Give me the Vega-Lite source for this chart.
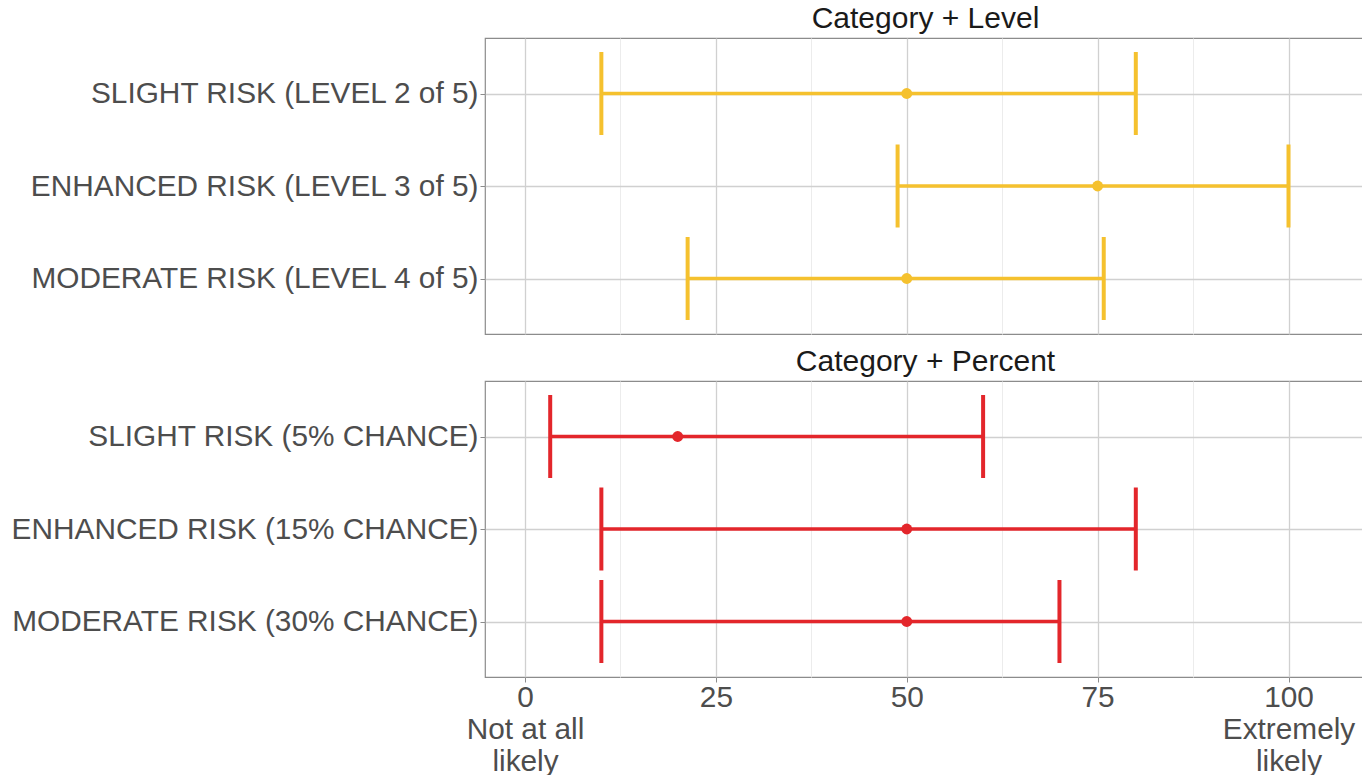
{
  "$schema": "https://vega.github.io/schema/vega-lite/v6.json",
  "padding": {"left": 10, "top": 3, "right": 0, "bottom": 0},
  "background": "white",
  "config": {
    "font": "Liberation Sans",
    "view": {"stroke": "#8c8c8c", "strokeWidth": 1.2},
    "title": {"font": "Liberation Sans", "fontSize": 30, "fontWeight": "normal", "color": "#1a1a1a", "frame": "group", "anchor": "middle", "offset": 4},
    "axis": {"labelFont": "Liberation Sans", "labelFontSize": 29.8, "labelColor": "#4d4d4d", "labelLimit": 800, "tickColor": "#8c8c8c", "tickSize": 5, "labelPadding": 2, "domain": false, "title": null}
  },
  "datasets": {
    "risk": [
      {"panel": "Level", "category": "SLIGHT RISK (LEVEL 2 of 5)", "low": 10, "mid": 50, "high": 80},
      {"panel": "Level", "category": "ENHANCED RISK (LEVEL 3 of 5)", "low": 48.8, "mid": 75, "high": 100},
      {"panel": "Level", "category": "MODERATE RISK (LEVEL 4 of 5)", "low": 21.3, "mid": 50, "high": 75.8},
      {"panel": "Percent", "category": "SLIGHT RISK (5% CHANCE)", "low": 3.3, "mid": 20, "high": 60},
      {"panel": "Percent", "category": "ENHANCED RISK (15% CHANCE)", "low": 10, "mid": 50, "high": 80},
      {"panel": "Percent", "category": "MODERATE RISK (30% CHANCE)", "low": 10, "mid": 50, "high": 70}
    ]
  },
  "spacing": 11,
  "vconcat": [
    {
      "title": "Category + Level",
      "width": 881,
      "height": 296,
      "data": {"name": "risk"},
      "transform": [{"filter": "datum.panel === 'Level'"}],
      "encoding": {
        "y": {"field": "category", "type": "nominal", "sort": null, "scale": {"type": "point", "padding": 0.6},
              "axis": {"gridColor": "#d0d0d0", "gridWidth": 1.3, "grid": true}}
      },
      "layer": [
        {
          "mark": {"type": "rule", "color": "#F5C12E", "strokeWidth": 3.5},
          "encoding": {
            "x": {"field": "low", "type": "quantitative", "scale": {"domain": [-5.24, 110.15], "nice": false, "zero": false},
                  "axis": {"values": [0, 12.5, 25, 37.5, 50, 62.5, 75, 87.5, 100], "labels": false, "ticks": false, "grid": true,
                           "gridColor": {"condition": {"test": "datum.value % 25 !== 0", "value": "#ececec"}, "value": "#d0d0d0"},
                           "gridWidth": {"condition": {"test": "datum.value % 25 !== 0", "value": 1}, "value": 1.3}}},
            "x2": {"field": "high"}
          }
        },
        {
          "mark": {"type": "tick", "color": "#F5C12E", "thickness": 4, "size": 83, "opacity": 1},
          "encoding": {"x": {"field": "low", "type": "quantitative"}}
        },
        {
          "mark": {"type": "tick", "color": "#F5C12E", "thickness": 4, "size": 83, "opacity": 1},
          "encoding": {"x": {"field": "high", "type": "quantitative"}}
        },
        {
          "mark": {"type": "circle", "color": "#F5C12E", "size": 120, "opacity": 1},
          "encoding": {"x": {"field": "mid", "type": "quantitative"}}
        }
      ]
    },
    {
      "title": "Category + Percent",
      "width": 881,
      "height": 296,
      "data": {"name": "risk"},
      "transform": [{"filter": "datum.panel === 'Percent'"}],
      "encoding": {
        "y": {"field": "category", "type": "nominal", "sort": null, "scale": {"type": "point", "padding": 0.6},
              "axis": {"gridColor": "#d0d0d0", "gridWidth": 1.3, "grid": true}}
      },
      "layer": [
        {
          "mark": {"type": "rule", "color": "#E3262B", "strokeWidth": 3.5},
          "encoding": {
            "x": {"field": "low", "type": "quantitative", "scale": {"domain": [-5.24, 110.15], "nice": false, "zero": false},
                  "axis": {"values": [0, 12.5, 25, 37.5, 50, 62.5, 75, 87.5, 100], "grid": true, "labelOverlap": false, "labelFlush": false,
                           "labelLineHeight": 32, "labelPadding": 0,
                           "labelExpr": "datum.value === 0 ? ['0', 'Not at all', 'likely'] : datum.value === 100 ? ['100', 'Extremely', 'likely'] : (datum.value % 25 === 0 ? datum.label : '')",
                           "tickOpacity": {"condition": {"test": "datum.value % 25 !== 0", "value": 0}, "value": 1},
                           "gridColor": {"condition": {"test": "datum.value % 25 !== 0", "value": "#ececec"}, "value": "#d0d0d0"},
                           "gridWidth": {"condition": {"test": "datum.value % 25 !== 0", "value": 1}, "value": 1.3}}},
            "x2": {"field": "high"}
          }
        },
        {
          "mark": {"type": "tick", "color": "#E3262B", "thickness": 4, "size": 83, "opacity": 1},
          "encoding": {"x": {"field": "low", "type": "quantitative"}}
        },
        {
          "mark": {"type": "tick", "color": "#E3262B", "thickness": 4, "size": 83, "opacity": 1},
          "encoding": {"x": {"field": "high", "type": "quantitative"}}
        },
        {
          "mark": {"type": "circle", "color": "#E3262B", "size": 120, "opacity": 1},
          "encoding": {"x": {"field": "mid", "type": "quantitative"}}
        }
      ]
    }
  ]
}
